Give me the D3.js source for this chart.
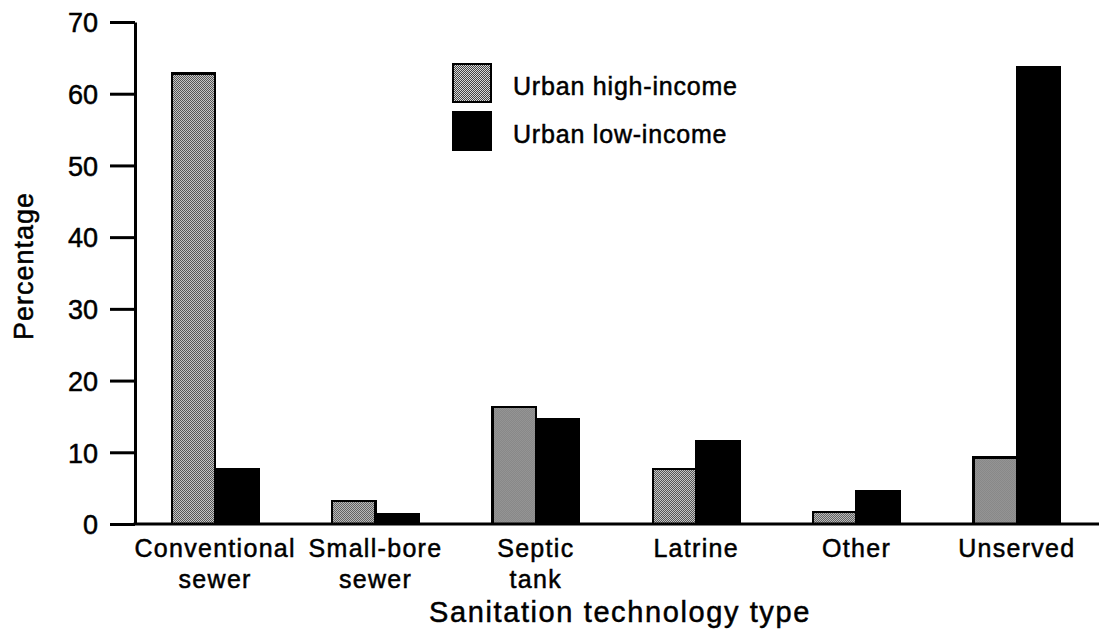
<!DOCTYPE html>
<html>
<head>
<meta charset="utf-8">
<script src="https://cdn.jsdelivr.net/npm/d3@7"></script>
<style>
  body { margin: 0; background: #fff; }
  svg text { font-family: "Liberation Sans", Arial, Helvetica, sans-serif; fill: #000; stroke: #000; stroke-width: 0.5px; }
</style>
</head>
<body>
<svg id="chart" width="1099" height="638"></svg>
<script>
//------------------------------------------------------------------------------
// Data
//------------------------------------------------------------------------------
var categories = [
  ["Conventional", "sewer"],
  ["Small-bore", "sewer"],
  ["Septic", "tank"],
  ["Latrine"],
  ["Other"],
  ["Unserved"]
]
var seriesNames = ["Urban high-income", "Urban low-income"]
var highIncome = [62.8, 3.2, 16.3, 7.7, 1.7, 9.3]
var lowIncome = [7.7, 1.3, 14.6, 11.6, 4.6, 63.7]
var yTicks = [0, 10, 20, 30, 40, 50, 60, 70]

//------------------------------------------------------------------------------
// Scales
//------------------------------------------------------------------------------
var svg = d3.select("#chart")

var x = d3.scaleBand()
  .domain(d3.range(categories.length))
  .range([135, 1097])
  .paddingInner(0.46)
  .paddingOuter(0.23)

var xSub = d3.scaleBand()
  .domain([0, 1])
  .range([0, x.bandwidth()])

var y = d3.scaleLinear()
  .domain([0, 70])
  .range([524, 22])

// dithered grey like the printed original
var defs = svg.append("defs")
var pat = defs.append("pattern")
  .attr("id", "dither")
  .attr("width", 2)
  .attr("height", 2)
  .attr("patternUnits", "userSpaceOnUse")
pat.append("rect").attr("width", 2).attr("height", 2).attr("fill", "#d8d8d8")
pat.append("rect").attr("width", 1).attr("height", 1).attr("fill", "#444")
pat.append("rect").attr("x", 1).attr("y", 1).attr("width", 1).attr("height", 1).attr("fill", "#444")

var fills = ["url(#dither)", "#000"]

//------------------------------------------------------------------------------
// Bars
//------------------------------------------------------------------------------
var rows = categories.map(function(c, i) {
  return [highIncome[i], lowIncome[i]]
})

var groups = svg.append("g").selectAll("g")
  .data(rows)
  .enter().append("g")
  .attr("transform", function(d, i) { return "translate(" + x(i) + ",0)" })

groups.selectAll("rect")
  .data(function(d) { return d })
  .enter().append("rect")
  .attr("x", function(d, j) { return xSub(j) })
  .attr("y", function(d) { return y(d) })
  .attr("width", xSub.bandwidth())
  .attr("height", function(d) { return y(0) - y(d) })
  .attr("fill", function(d, j) { return fills[j] })
  .attr("stroke", "#000")
  .attr("stroke-width", 2.5)
  .attr("shape-rendering", "crispEdges")

//------------------------------------------------------------------------------
// Axes
//------------------------------------------------------------------------------
var yAxis = svg.append("g")
  .attr("transform", "translate(135,0)")
  .call(d3.axisLeft(y).tickValues(yTicks).tickSize(25).tickPadding(12).tickSizeOuter(0))

yAxis.select(".domain")
  .attr("stroke-width", 3)
yAxis.selectAll(".tick line")
  .attr("stroke-width", 3)
yAxis.selectAll(".tick text")
  .attr("font-size", 27)
  .attr("dy", "0.36em")
  .attr("fill", "#000")
  .style("font-family", "\"Liberation Sans\", Arial, sans-serif")

// baseline runs right to the edge
svg.append("line")
  .attr("x1", 133.5)
  .attr("x2", 1099)
  .attr("y1", y(0))
  .attr("y2", y(0))
  .attr("stroke", "#000")
  .attr("stroke-width", 3)

// category labels, one or two lines each
var labels = svg.append("g").selectAll("text")
  .data(categories)
  .enter().append("text")
  .attr("text-anchor", "middle")
  .attr("font-size", 25)
  .attr("letter-spacing", 1.3)

labels.selectAll("tspan")
  .data(function(d) { return d })
  .enter().append("tspan")
  .attr("x", function() {
    var i = categories.indexOf(d3.select(this.parentNode).datum())
    return x(i) + x.bandwidth() / 2
  })
  .attr("y", function(d, k) { return 557 + k * 31 })
  .text(function(d) { return d })

svg.append("text")
  .attr("x", 620)
  .attr("y", 622)
  .attr("text-anchor", "middle")
  .attr("font-size", 29)
  .attr("letter-spacing", 1.6)
  .text("Sanitation technology type")

svg.append("text")
  .attr("transform", "translate(33,266) rotate(-90)")
  .attr("text-anchor", "middle")
  .attr("font-size", 27)
  .attr("letter-spacing", 1)
  .text("Percentage")

//------------------------------------------------------------------------------
// Legend
//------------------------------------------------------------------------------
var legend = svg.append("g").selectAll("g")
  .data(seriesNames)
  .enter().append("g")
  .attr("transform", function(d, i) { return "translate(453," + (64 + i * 48) + ")" })

legend.append("rect")
  .attr("width", 38)
  .attr("height", 38)
  .attr("fill", function(d, i) { return fills[i] })
  .attr("stroke", "#000")
  .attr("stroke-width", 2.5)
  .attr("shape-rendering", "crispEdges")

legend.append("text")
  .attr("x", 60)
  .attr("y", 31)
  .attr("font-size", 25)
  .attr("letter-spacing", 0.8)
  .text(function(d) { return d })
</script>
</body>
</html>
